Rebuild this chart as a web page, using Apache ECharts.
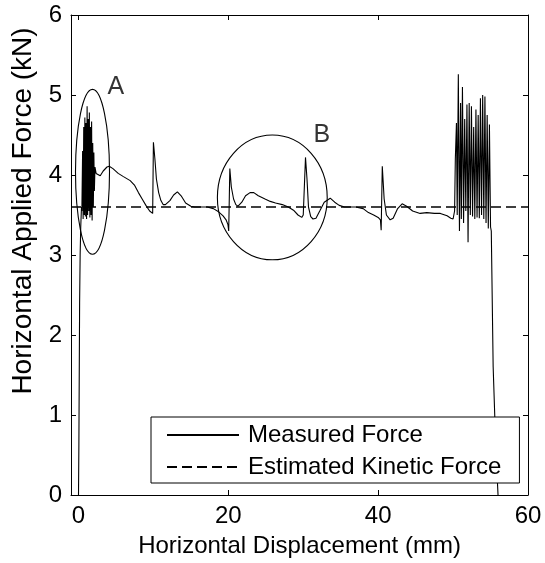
<!DOCTYPE html>
<html>
<head>
<meta charset="utf-8">
<title>Horizontal Applied Force</title>
<script src="https://cdn.jsdelivr.net/npm/echarts@6/dist/echarts.min.js"></script>
<style>
  html,body{margin:0;padding:0;background:#fff;}
  #main{width:545px;height:563px;}
</style>
</head>
<body>
<div id="main"></div>
<script>
/*测量数据*/
var measuredX=[0.0,0.05,0.1,0.15,0.22,0.3,0.4,0.45,0.55,0.62,0.7,0.78,0.85,0.92,1.0,1.08,1.15,1.22,1.3,1.38,1.45,1.52,1.6,1.68,1.75,1.82,1.9,1.98,2.05,2.12,2.2,2.35,2.6,2.9,3.3,3.8,4.1,4.6,5.3,6.0,6.9,7.5,8.0,8.5,9.0,9.5,9.9,10.0,10.2,10.4,10.7,11.0,11.3,11.6,12.2,12.7,13.2,13.7,14.3,15.0,15.5,17.2,18.0,18.7,19.3,19.7,19.95,20.05,20.2,20.4,20.7,21.0,21.3,21.8,22.3,22.9,23.4,24.0,24.9,25.6,26.3,27.2,28.0,28.7,29.3,29.8,30.0,30.3,30.5,30.7,31.0,31.3,31.7,32.2,32.8,33.6,34.2,34.8,35.5,37.0,38.0,38.7,39.4,40.0,40.3,40.4,40.55,40.8,41.1,41.6,42.0,42.6,43.2,43.8,44.6,45.6,46.5,47.5,48.3,49.2,49.7,50.0,50.2,50.3,50.45,50.55,50.7,50.85,51.0,51.1,51.25,51.4,51.55,51.7,51.85,52.0,52.15,52.3,52.45,52.6,52.75,52.9,53.05,53.2,53.35,53.5,53.65,53.8,53.95,54.1,54.25,54.4,54.55,54.7,54.85,55.0,55.1,55.35,55.7,56.0];
var measuredY=[0.0,0.6,1.5,2.4,3.0,3.35,3.6,3.55,4.3,3.45,4.6,3.5,4.72,3.48,4.65,3.45,4.86,3.5,4.7,3.55,4.78,3.47,4.6,3.5,4.67,3.43,4.4,3.6,4.28,3.8,4.1,4.02,4.01,3.99,4.05,4.1,4.11,4.08,4.02,3.98,3.93,3.87,3.78,3.70,3.62,3.55,3.52,4.41,4.2,3.95,3.78,3.68,3.63,3.63,3.68,3.75,3.79,3.74,3.65,3.61,3.6,3.6,3.58,3.54,3.49,3.44,3.38,3.3,4.08,3.85,3.7,3.63,3.61,3.66,3.74,3.78,3.78,3.74,3.7,3.67,3.65,3.63,3.6,3.56,3.5,3.47,3.5,4.22,3.95,3.6,3.48,3.45,3.46,3.55,3.66,3.71,3.66,3.62,3.6,3.6,3.58,3.53,3.5,3.47,3.44,3.31,4.11,3.7,3.5,3.44,3.46,3.58,3.64,3.61,3.55,3.52,3.53,3.52,3.52,3.49,3.46,3.45,3.55,4.2,4.65,3.5,5.26,3.3,4.9,3.45,5.1,3.4,4.7,3.55,4.88,3.16,4.9,3.5,4.86,3.48,4.6,3.45,4.82,3.47,4.75,3.46,4.96,3.5,5.0,3.45,4.98,3.4,4.75,3.33,4.63,3.35,3.3,1.6,0.6,0.0];
/*估计动摩擦力*/
var kineticX=[-1,60];
var kineticY=[3.6,3.6];
/*刻度*/
var xTicks=[0,20,40,60];
var yTicks=[0,1,2,3,4,5,6];
/*标注 A B: 中心x, 中心y, 半径x, 半径y*/
var ellipseNames=['A','B'];
var ellipseCx=[1.87,25.87];
var ellipseCy=[4.04,3.72];
var ellipseRx=[2.27,7.33];
var ellipseRy=[1.03,0.78];
var labelX=[5.0,32.47];
var labelY=[5.1,4.5];

var seriesNames=['Measured Force','Estimated Kinetic Force'];

!function(){
    var font='"Liberation Sans", Arial, Helvetica, sans-serif';
    var myChart=echarts.init(document.getElementById('main'),null,{renderer:'canvas'});

    var measured=[];
    for(var i=0;i<measuredX.length;i++){ measured.push([measuredX[i],measuredY[i]]); }
    var kinetic=[];
    for(var j=0;j<kineticX.length;j++){ kinetic.push([kineticX[j],kineticY[j]]); }
    var ellipses=[];
    for(var k=0;k<ellipseNames.length;k++){
        ellipses.push([ellipseCx[k],ellipseCy[k],ellipseRx[k],ellipseRy[k]]);
    }
    var labels=[];
    for(var m=0;m<ellipseNames.length;m++){
        labels.push({value:[labelX[m],labelY[m]],name:ellipseNames[m]});
    }

    var axisLine={show:true,onZero:false,lineStyle:{color:'#000',width:1}};
    function ticks(vals){
        return {show:true,inside:true,length:5,customValues:vals,lineStyle:{color:'#000',width:1}};
    }

    var option={
        animation:false,
        backgroundColor:'#fff',
        grid:{left:71,right:17,top:15,bottom:67,containLabel:false},
        xAxis:[{
            type:'value',min:-1,max:60,
            position:'bottom',
            name:'Horizontal Displacement (mm)',
            nameLocation:'middle',
            nameGap:39,
            nameTextStyle:{fontFamily:font,fontSize:24,color:'#000'},
            axisLine:axisLine,
            axisTick:ticks(xTicks),
            splitLine:{show:false},
            axisLabel:{customValues:xTicks,fontFamily:font,fontSize:24,color:'#000',margin:9}
        },{
            type:'value',min:-1,max:60,
            position:'top',
            axisLine:axisLine,
            axisTick:ticks(xTicks),
            splitLine:{show:false},
            axisLabel:{show:false}
        }],
        yAxis:[{
            type:'value',min:0,max:6,
            position:'left',
            axisLine:axisLine,
            axisTick:ticks(yTicks),
            splitLine:{show:false},
            axisLabel:{customValues:yTicks,fontFamily:font,fontSize:24,color:'#000',margin:9}
        },{
            type:'value',min:0,max:6,
            position:'right',
            axisLine:axisLine,
            axisTick:ticks(yTicks),
            splitLine:{show:false},
            axisLabel:{show:false}
        }],
        legend:{
            data:seriesNames,
            orient:'vertical',
            left:151,top:417,
            padding:[6,18,4,15],
            itemWidth:72,itemHeight:20,itemGap:8,
            backgroundColor:'#fff',
            borderColor:'#000',borderWidth:1,borderRadius:0,
            itemStyle:{color:'rgba(0,0,0,0)',borderWidth:0,opacity:0},
            textStyle:{fontFamily:font,fontSize:24,color:'#000',padding:[0,0,0,4]}
        },
        graphic:[{
            type:'text',
            x:23,y:211,
            rotation:Math.PI/2,
            style:{text:'Horizontal Applied Force (kN)',font:'28px '+font,fill:'#000',align:'center',verticalAlign:'middle'}
        }],
        series:[{
            name:seriesNames[0],
            type:'line',
            data:measured,
            symbol:'none',
            lineStyle:{color:'#000',width:1.1},
            itemStyle:{color:'#000'},
            z:3
        },{
            name:seriesNames[1],
            type:'line',
            data:kinetic,
            symbol:'none',
            lineStyle:{color:'#000',width:1.4,type:[10,5]},
            itemStyle:{color:'#000'},
            z:2
        },{
            type:'custom',
            data:ellipses,
            encode:{x:0,y:1},
            renderItem:function(params,api){
                var c=api.coord([api.value(0),api.value(1)]);
                var s=api.size([api.value(2),api.value(3)]);
                return {
                    type:'ellipse',
                    shape:{cx:c[0],cy:c[1],rx:s[0],ry:s[1]},
                    style:{fill:null,stroke:'#000',lineWidth:1.1}
                };
            },
            z:4
        },{
            type:'scatter',
            data:labels,
            symbolSize:0,
            label:{show:true,position:'inside',formatter:'{b}',fontFamily:font,fontSize:25,color:'#000'},
            z:4
        }]
    };
    myChart.setOption(option);
}();
</script>
</body>
</html>
